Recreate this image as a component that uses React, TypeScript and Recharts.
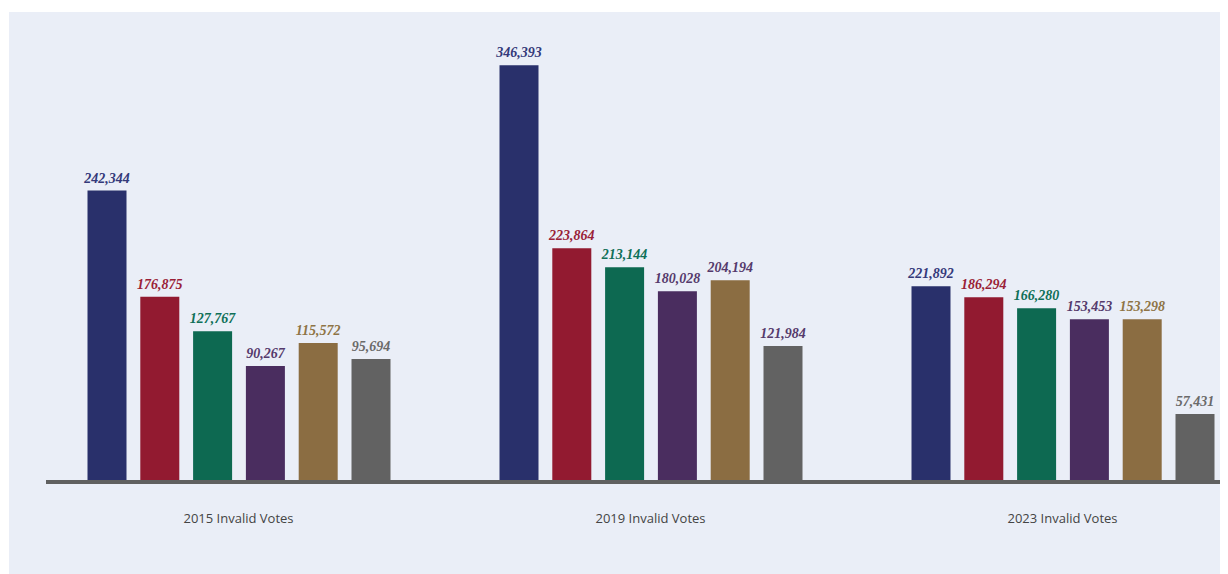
import React from "react";
import { BarChart, Bar, XAxis, YAxis, LabelList } from "recharts";

const categories = ["2015 Invalid Votes", "2019 Invalid Votes", "2023 Invalid Votes"];

// bar heights as drawn in the picture (same units as the labels)
const barsA = [242344, 346393, 162817];
const barsB = [153929, 194384, 153680];
const barsC = [125436, 178600, 144542];
const barsD = [96361, 158664, 135404];
const barsE = [115572, 167801, 135404];
const barsF = [102176, 112975, 56488];

// numbers printed above the bars
const labelsA = [242344, 346393, 221892];
const labelsB = [176875, 223864, 186294];
const labelsC = [127767, 213144, 166280];
const labelsD = [90267, 180028, 153453];
const labelsE = [115572, 204194, 153298];
const labelsF = [95694, 121984, 57431];

const seriesKeys = ["a", "b", "c", "d", "e", "f"];
const seriesColors = ["#29306b", "#921a30", "#0d6951", "#4a2d5f", "#8b6d42", "#626262"];
const labelColors = ["#34397a", "#9a1f38", "#0f7058", "#553a6c", "#8e7446", "#6a6a6a"];
// in the 2019 group the last two labels are printed in the purple label colour
const labelColorOverride: Record<string, string> = { "1-4": "#553a6c", "1-5": "#553a6c" };

const barValues = [barsA, barsB, barsC, barsD, barsE, barsF];
const labelValues = [labelsA, labelsB, labelsC, labelsD, labelsE, labelsF];

const data = categories.map((name, i) => {
  const row: Record<string, any> = { name };
  seriesKeys.forEach((k, j) => {
    row[k] = barValues[j][i];
    row[k + "Label"] = labelValues[j][i];
  });
  return row;
});

const fmt = (v: any) => Number(v).toLocaleString("en-US");

const CategoryTick = (props: any) => {
  const { x, y, payload } = props;
  return (
    <text
      x={x}
      y={y}
      dy={41}
      textAnchor="middle"
      fill="#444444"
      fontFamily="'Open Sans', sans-serif"
      fontSize={13}
    >
      {payload.value}
    </text>
  );
};

const makeLabel = (seriesIndex: number) => (props: any) => {
  const { x, y, width, value, index } = props;
  const color = labelColorOverride[`${index}-${seriesIndex}`] || labelColors[seriesIndex];
  return (
    <text
      x={Number(x) + Number(width) / 2}
      y={Number(y) - 8}
      textAnchor="middle"
      fill={color}
      fontFamily="'Liberation Serif', 'Times New Roman', serif"
      fontStyle="italic"
      fontWeight="bold"
      fontSize={14}
    >
      {fmt(value)}
    </text>
  );
};

export default function App() {
  return (
    <div style={{ position: "relative", width: 1220, height: 566, overflow: "hidden" }}>
      <div
        style={{
          position: "absolute",
          left: 1,
          top: 4,
          width: 1300,
          height: 562,
          background: "#eaeef7",
        }}
      >
        <BarChart
          width={1300}
          height={562}
          data={data}
          margin={{ top: 37, right: 39.5, bottom: 0, left: 37 }}
          barSize={39}
          barGap={13.8}
        >
          <XAxis
            dataKey="name"
            height={92}
            tickLine={false}
            tickSize={0}
            tickMargin={0}
            padding={{ left: -13.5, right: 1 }}
            axisLine={{ stroke: "#606060", strokeWidth: 4 }}
            tick={<CategoryTick />}
            interval={0}
          />
          <YAxis hide domain={[0, 360000]} />
          {seriesKeys.map((k, j) => (
            <Bar key={k} dataKey={k} fill={seriesColors[j]} isAnimationActive={false}>
              <LabelList dataKey={k + "Label"} content={makeLabel(j)} />
            </Bar>
          ))}
        </BarChart>
      </div>
    </div>
  );
}
